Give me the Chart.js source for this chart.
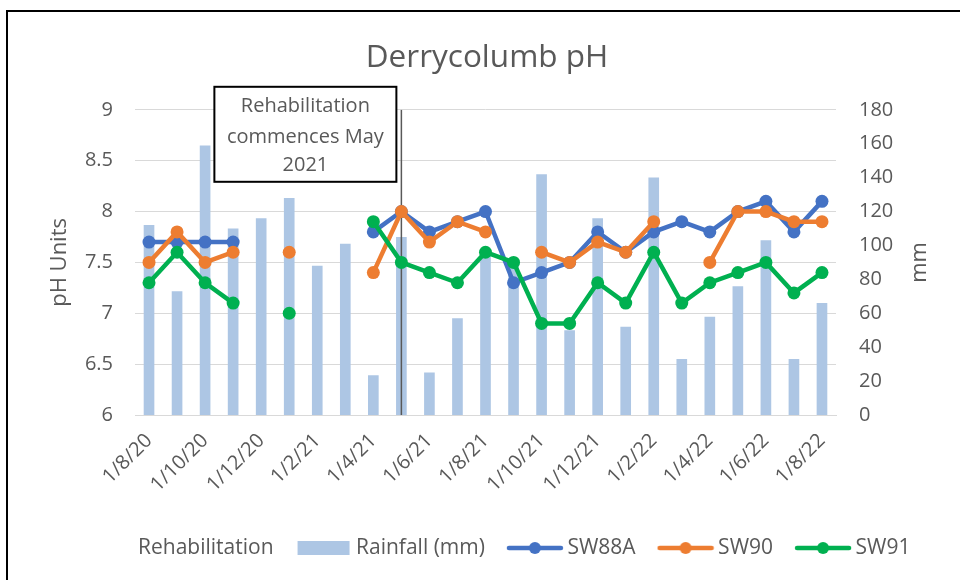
<!DOCTYPE html>
<html>
<head>
<meta charset="utf-8">
<title>Derrycolumb pH</title>
<script src="https://cdn.jsdelivr.net/npm/chart.js@4.4.1/dist/chart.umd.min.js"></script>
<style>
  html, body { margin: 0; padding: 0; background: #fff; overflow: hidden; }
  #wrap { position: relative; width: 960px; height: 580px; }
  #frame { position: absolute; left: 6px; top: 10px; width: 1000px; height: 1000px; border: 2px solid #000; }
  #grafico { position: absolute; left: 0; top: 0; }
</style>
</head>
<body>
<div id="wrap">
  <div id="frame"></div>
  <canvas id="grafico" width="960" height="580"></canvas>
</div>
<script>
// monthly samples, Aug 2020 - Aug 2022
const months = ['1/8/20','1/9/20','1/10/20','1/11/20','1/12/20','1/1/21','1/2/21','1/3/21','1/4/21',
  '1/5/21','1/6/21','1/7/21','1/8/21','1/9/21','1/10/21','1/11/21','1/12/21','1/1/22','1/2/22',
  '1/3/22','1/4/22','1/5/22','1/6/22','1/7/22','1/8/22'];
const rainfall = [112, 73, 159, 110, 116, 128, 88, 101, 23.5, 105, 25, 57, 96, 88, 142, 50, 116, 52, 140, 33, 58, 76, 103, 33, 66];
const sw88a = [7.7, 7.7, 7.7, 7.7, null, null, null, null, 7.8, 8.0, 7.8, 7.9, 8.0, 7.3, 7.4, 7.5, 7.8, 7.6, 7.8, 7.9, 7.8, 8.0, 8.1, 7.8, 8.1];
const sw90  = [7.5, 7.8, 7.5, 7.6, null, 7.6, null, null, 7.4, 8.0, 7.7, 7.9, 7.8, null, 7.6, 7.5, 7.7, 7.6, 7.9, null, 7.5, 8.0, 8.0, 7.9, 7.9];
const sw91  = [7.3, 7.6, 7.3, 7.1, null, 7.0, null, null, 7.9, 7.5, 7.4, 7.3, 7.6, 7.5, 6.9, 6.9, 7.3, 7.1, 7.6, 7.1, 7.3, 7.4, 7.5, 7.2, 7.4];
const rehabMonth = '1/5/21';
const phRange = [6, 9];
const rainRange = [0, 180];
const noteLines = ['Rehabilitation', 'commences May', '2021'];

const FONT = "'Open Sans', sans-serif";
const GREY = '#595959';
Chart.defaults.font.family = FONT;
Chart.defaults.color = GREY;

// legend symbols: blank, filled box, line with marker
function symbol(kind, color) {
  let c = document.createElement('canvas');
  c.width = 58; c.height = 16;
  let g = c.getContext('2d');
  if (kind === 'box') {
    g.fillStyle = color;
    g.fillRect(3, 1, 52, 14);
  } else if (kind === 'line') {
    g.strokeStyle = color; g.lineWidth = 4.5; g.lineCap = 'round';
    g.beginPath(); g.moveTo(3, 8); g.lineTo(55, 8); g.stroke();
    g.fillStyle = color;
    g.beginPath(); g.arc(29, 8, 6, 0, Math.PI * 2); g.fill();
  }
  return c;
}

function series(label, data, color, order) {
  return {
    type: 'line', label: label, data: data, yAxisID: 'y', order: order,
    borderColor: color, backgroundColor: color, borderWidth: 4.5,
    pointRadius: 6.5, pointHoverRadius: 6.5, pointBorderWidth: 0,
    pointBackgroundColor: color, spanGaps: false,
    legendSymbol: symbol('line', color)
  };
}

// text box, secondary axis title, legend nudge
const notes = {
  id: 'notes',
  afterLayout(chart) {
    chart.legend.left += 10;
    chart.legend.right += 10;
  },
  afterDraw(chart) {
    let ctx = chart.ctx, a = chart.chartArea;
    let xr = chart.scales.x.getPixelForValue(months.indexOf(rehabMonth));
    let w = 182, h = 95;
    let left = xr - 5 - w, top = a.top - 23;
    ctx.save();
    ctx.fillStyle = '#fff';
    ctx.fillRect(left, top, w, h);
    ctx.strokeStyle = '#000';
    ctx.lineWidth = 2;
    ctx.strokeRect(left, top, w, h);
    ctx.fillStyle = GREY;
    ctx.font = '20px ' + FONT;
    ctx.textAlign = 'center';
    ctx.textBaseline = 'middle';
    [19, 50, 78].forEach((dy, i) => ctx.fillText(noteLines[i], left + w / 2, top + dy));

    ctx.translate(chart.width - 40, (a.top + a.bottom) / 2);
    ctx.rotate(-Math.PI / 2);
    ctx.font = '22px ' + FONT;
    ctx.fillText('mm', 0, 0);
    ctx.restore();
  }
};

let ctx = document.getElementById('grafico');
let chart = new Chart(ctx, {
  type: 'bar',
  data: {
    labels: months,
    datasets: [
      {
        type: 'line', label: 'Rehabilitation', yAxisID: 'y', order: 3,
        data: [{ x: rehabMonth, y: phRange[0] }, { x: rehabMonth, y: phRange[1] }],
        borderColor: GREY, borderWidth: 1.5, pointRadius: 0, pointHoverRadius: 0,
        legendSymbol: symbol('none')
      },
      {
        type: 'bar', label: 'Rainfall (mm)', data: rainfall, yAxisID: 'y1', order: 4,
        backgroundColor: '#adc6e4', barPercentage: 0.38, categoryPercentage: 1,
        legendSymbol: symbol('box', '#adc6e4')
      },
      series('SW88A', sw88a, '#4472c4', 2),
      series('SW90', sw90, '#ed7d31', 1),
      series('SW91', sw91, '#00b050', 0)
    ]
  },
  options: {
    responsive: false,
    animation: false,
    layout: { padding: { left: 14, right: 0, top: 0, bottom: 11.5 } },
    plugins: {
      title: {
        display: true, text: 'Derrycolumb pH', color: GREY,
        font: { size: 31.5, weight: 'normal' },
        padding: { top: 39, bottom: 33 }
      },
      legend: {
        position: 'bottom',
        labels: {
          usePointStyle: true, pointStyleWidth: 44, padding: 28,
          color: GREY, font: { size: 21 },
          sort: (a, b) => a.datasetIndex - b.datasetIndex,
          generateLabels(chart) {
            let items = Chart.defaults.plugins.legend.labels.generateLabels(chart);
            items.forEach(it => { it.pointStyle = chart.data.datasets[it.datasetIndex].legendSymbol; });
            return items;
          }
        }
      },
      tooltip: { enabled: false }
    },
    scales: {
      x: {
        offset: true,
        grid: { display: false },
        border: { color: '#d9d9d9' },
        ticks: {
          autoSkip: false, minRotation: 45, maxRotation: 45, padding: 6,
          font: { size: 20 },
          callback(v, i) { return i % 2 ? '' : this.getLabelForValue(v); }
        },
        afterFit(s) { s.height = 94.5; }
      },
      y: {
        position: 'left', min: phRange[0], max: phRange[1],
        ticks: { stepSize: 0.5, padding: 22, font: { size: 20 }, callback: v => String(v) },
        grid: { color: '#d9d9d9', drawTicks: false },
        border: { display: false },
        title: { display: true, text: 'pH Units', font: { size: 22 }, padding: { top: 33 } },
        afterFit(s) { s.width = 121; }
      },
      y1: {
        position: 'right', min: rainRange[0], max: rainRange[1],
        ticks: { stepSize: 20, padding: 23, font: { size: 20 } },
        grid: { display: false, drawTicks: false },
        border: { display: false },
        afterFit(s) { s.width = 124; }
      }
    }
  },
  plugins: [notes]
});
</script>
</body>
</html>
